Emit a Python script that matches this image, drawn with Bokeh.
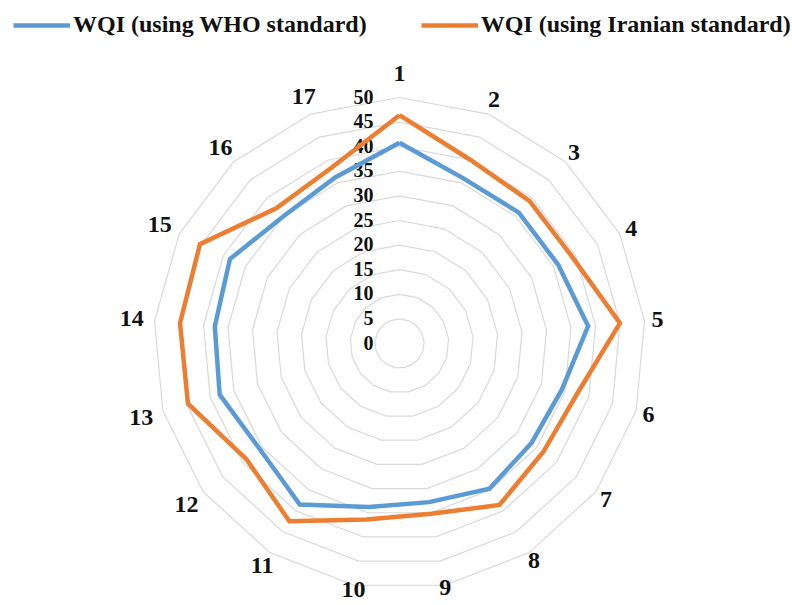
import numpy as np
from bokeh.plotting import figure
from bokeh.models import Range1d, Legend, LegendItem
from bokeh.core.properties import value
from bokeh.embed import file_html
from bokeh.resources import INLINE

# ---- data ----
categories = [str(i) for i in range(1, 18)]
who_wqi = [40.8, 36.0, 36.0, 36.0, 38.5, 34.3, 33.6, 34.7, 32.8, 33.8,
           38.5, 35.6, 38.0, 37.7, 38.5, 35.0, 36.2]
iran_wqi = [46.4, 40.0, 39.2, 39.3, 45.0, 37.5, 36.6, 38.6, 35.2, 36.4,
            42.5, 39.0, 44.7, 44.8, 45.3, 37.2, 38.3]
tick_values = [0, 5, 10, 15, 20, 25, 30, 35, 40, 45, 50]
series_names = ["WQI (using WHO standard)", "WQI (using Iranian standard)"]

# ---- layout constants ----
W, H = 792, 605
CX, CY = 399, 343          # centre of radar in canvas px (from top-left)
PX_PER_UNIT = 246 / 50.0
BLUE = "#5B9BD5"
ORANGE = "#ED7D31"
GRID = "#D9D9D9"
FONT = value("Liberation Serif")

n = len(categories)
theta = 2 * np.pi * np.arange(n) / n
sin_t, cos_t = np.sin(theta), np.cos(theta)

p = figure(width=W, height=H, output_backend="svg", toolbar_location=None,
           x_axis_type=None, y_axis_type=None, min_border=0,
           x_range=Range1d(-CX / PX_PER_UNIT, (W - CX) / PX_PER_UNIT),
           y_range=Range1d(-(H - CY) / PX_PER_UNIT, CY / PX_PER_UNIT))
p.outline_line_color = None
p.grid.visible = False
p.background_fill_color = "white"

# grid rings
ring_xs, ring_ys = [], []
for t in tick_values[1:]:
    ring_xs.append(list(np.append(t * sin_t, t * sin_t[0])))
    ring_ys.append(list(np.append(t * cos_t, t * cos_t[0])))
p.multi_line(ring_xs, ring_ys, line_color=GRID, line_width=1.2)

# tick labels
p.text(x=[-26 / PX_PER_UNIT] * len(tick_values),
       y=[t + 1 / PX_PER_UNIT for t in tick_values],
       text=[str(t) for t in tick_values],
       text_font=FONT, text_font_style="bold", text_font_size="20px",
       text_align="right", text_baseline="middle", text_color="#111111")

# category labels
nd = np.array([len(c) for c in categories])
r_lab = (259 + (nd - 1) * 10 * np.abs(sin_t)
         + 11 * np.clip(cos_t, 0, None) ** 20
         - 12 * np.clip(-cos_t, 0, None) ** 8)
r_lab = r_lab / PX_PER_UNIT
p.text(x=list(r_lab * sin_t), y=list(r_lab * cos_t), text=categories,
       text_font=FONT, text_font_style="bold", text_font_size="24px",
       text_align="center", text_baseline="middle", text_color="#111111")

# series
def closed(vals):
    v = np.array(vals)
    xs = np.append(v * sin_t, v[0] * sin_t[0])
    ys = np.append(v * cos_t, v[0] * cos_t[0])
    return list(xs), list(ys)

bx, by = closed(who_wqi)
ox, oy = closed(iran_wqi)
r_blue = p.line(bx, by, line_color=BLUE, line_width=4.5, line_join="miter")
r_orange = p.line(ox, oy, line_color=ORANGE, line_width=4.5, line_join="miter")

legend = Legend(items=[LegendItem(label=series_names[0], renderers=[r_blue]),
                       LegendItem(label=series_names[1], renderers=[r_orange])],
                location=(13, H - 38), orientation="horizontal",
                border_line_color=None, background_fill_alpha=0,
                padding=0, margin=0, spacing=54, label_standoff=3,
                glyph_width=57, glyph_height=20,
                label_text_font="Liberation Serif", label_text_font_style="bold",
                label_text_font_size="24px", label_text_color="#111111")
p.add_layout(legend)

open("out.html", "w").write(file_html(p, INLINE))
